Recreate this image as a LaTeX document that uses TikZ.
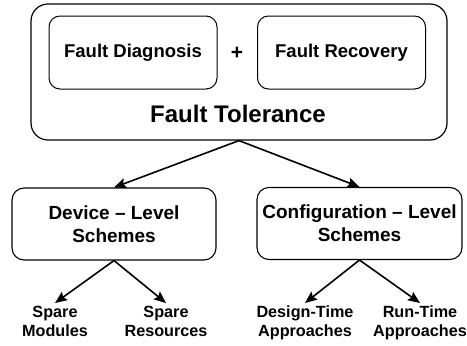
\documentclass[tikz,border=0pt]{standalone}
\usepackage{fontspec}
\setmainfont{Liberation Sans}
\usetikzlibrary{arrows.meta}
\begin{document}
\begin{tikzpicture}[x=1pt, y=-1pt,
  box/.style={draw, line width=1.1pt, rounded corners=12pt, align=center,
    font=\bfseries\fontsize{19}{23}\selectfont},
  inbox/.style={draw, line width=1pt, rounded corners=11pt, align=center,
    minimum width=168pt, minimum height=73pt,
    font=\bfseries\fontsize{18.5}{22}\selectfont},
  leaf/.style={align=center, inner sep=3pt,
    font=\bfseries\fontsize{16.2}{18.5}\selectfont},
  arr/.style={-{Stealth[length=12pt, width=10pt, inset=2pt]}, line width=1.6pt}]
\useasboundingbox (0,0) rectangle (467,346);

% outer frame with its two parts
\node[draw, line width=1.2pt, rounded corners=17pt, minimum width=416pt,
  minimum height=136pt] (ft) at (239,72) {};
\node[inbox] (diag) at (133,52.5) {Fault Diagnosis};
\node[inbox] (rec) at (341.5,52.5) {Fault Recovery};
\node[font=\bfseries\fontsize{21}{25}\selectfont] (plus) at (237,53) {+};
\node[font=\bfseries\fontsize{24}{28}\selectfont] (ftlabel) at (238,114) {Fault Tolerance};

% scheme levels
\node[box, minimum width=204pt, minimum height=72pt] (dev) at (114,224)
  {Device -- Level\\Schemes};
\node[box, minimum width=205pt, minimum height=72pt] (conf) at (359.5,223.5)
  {Configuration -- Level\\Schemes};

% leaves
\node[leaf, anchor=north] (sm) at (55,303) {Spare\\Modules};
\node[leaf, anchor=north] (sr) at (166,303) {Spare\\Resources};
\node[leaf, anchor=north] (dt) at (305,303) {Design-Time\\Approaches};
\node[leaf, anchor=north] (rt) at (420,303) {Run-Time\\Approaches};

% connectors
\draw[arr] (ft.south) -- (dev.north);
\draw[arr] (ft.south) -- (conf.north);
\draw[arr] (dev.south) -- (sm.north);
\draw[arr] (dev.south) -- (sr.north);
\draw[arr] (conf.south) -- (dt.north);
\draw[arr] (conf.south) -- (rt.north);
\end{tikzpicture}
\end{document}
